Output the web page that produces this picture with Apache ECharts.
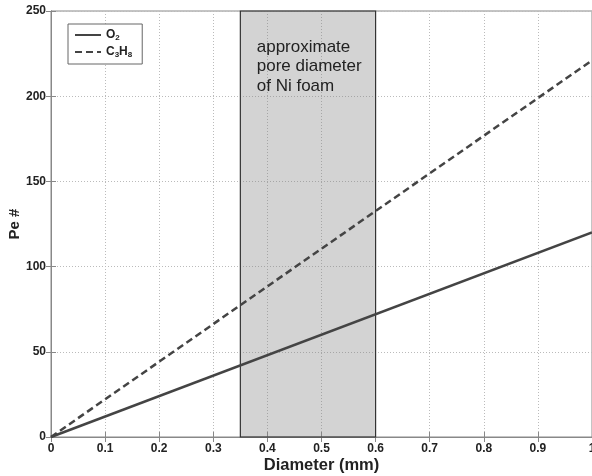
<!DOCTYPE html>
<html>
<head>
<meta charset="utf-8">
<script src="https://cdn.jsdelivr.net/npm/echarts@6/dist/echarts.min.js"></script>
<style>
  html, body { margin: 0; padding: 0; background: #fff; }
  #chart { width: 592px; height: 476px; }
</style>
</head>
<body>
<div id="chart"></div>
<script>
// Peclet number versus channel diameter
const diameters = [0, 1];
const peO2 = [0, 120];
const peC3H8 = [0, 221];
const poreRange = [0.35, 0.6];
const xTicks = ['0', '0.1', '0.2', '0.3', '0.4', '0.5', '0.6', '0.7', '0.8', '0.9', '1'];
const yTicks = ['0', '50', '100', '150', '200', '250'];

const FONT = '"Liberation Sans", Arial, sans-serif';
const axisColor = '#888';

function pairs(xs, ys) { return xs.map((x, i) => [x, ys[i]]); }

const chart = echarts.init(document.getElementById('chart'));
chart.setOption({
  animation: false,
  backgroundColor: '#fff',
  grid: {
    left: 51, right: 0, top: 11, bottom: 39,
    show: true, borderColor: axisColor, borderWidth: 1,
    containLabel: false, outerBoundsMode: 'none'
  },
  legend: {
    left: 68, top: 24,
    orient: 'vertical',
    itemWidth: 26, itemHeight: 10, itemGap: 4,
    padding: [5, 10, 5, 6],
    borderColor: '#666', borderWidth: 1,
    backgroundColor: '#fff',
    itemStyle: { opacity: 0 },
    data: ['O2', 'C3H8'],
    formatter: function (name) {
      return name === 'O2' ? '{m|O}{s|2}' : '{m|C}{s|3}{m|H}{s|8}';
    },
    textStyle: {
      rich: {
        m: { fontFamily: FONT, fontWeight: 'bold', fontSize: 12, color: '#222' },
        s: { fontFamily: FONT, fontWeight: 'bold', fontSize: 8, color: '#222', verticalAlign: 'bottom', padding: [6, 0, 0, 0] }
      }
    }
  },
  xAxis: [{
    type: 'value', min: 0, max: 1, interval: 0.1,
    name: 'Diameter (mm)', nameLocation: 'middle', nameGap: 20, nameMoveOverlap: false,
    nameTextStyle: { fontFamily: FONT, fontWeight: 'bold', fontSize: 16.5, color: '#222' },
    axisLine: { show: true, lineStyle: { color: axisColor } },
    axisTick: { show: true, inside: true, length: 5, lineStyle: { color: axisColor } },
    axisLabel: {
      fontFamily: FONT, fontWeight: 'bold', fontSize: 12, color: '#222', margin: 6,
      formatter: (v) => xTicks[Math.round(v * 10)]
    },
    splitLine: { show: true, lineStyle: { color: '#bbb', type: [1, 2], width: 1 } }
  }, {
    type: 'value', min: 0, max: 1, interval: 0.1, position: 'top',
    axisLine: { show: true, lineStyle: { color: axisColor } },
    axisTick: { show: true, inside: true, length: 5, lineStyle: { color: axisColor } },
    axisLabel: { show: false }, splitLine: { show: false }
  }],
  yAxis: [{
    type: 'value', min: 0, max: 250, interval: 50,
    name: 'Pe #', nameLocation: 'middle', nameGap: 29, nameRotate: 90, nameMoveOverlap: false,
    nameTextStyle: { fontFamily: FONT, fontWeight: 'bold', fontSize: 15, color: '#222' },
    axisLine: { show: true, lineStyle: { color: axisColor } },
    axisTick: { show: true, inside: true, length: 5, lineStyle: { color: axisColor } },
    axisLabel: {
      fontFamily: FONT, fontWeight: 'bold', fontSize: 12, color: '#222', margin: 5,
      formatter: (v) => yTicks[Math.round(v / 50)]
    },
    splitLine: { show: true, lineStyle: { color: '#bbb', type: [1, 2], width: 1 } }
  }, {
    type: 'value', min: 0, max: 250, interval: 50, position: 'right',
    axisLine: { show: true, lineStyle: { color: axisColor } },
    axisTick: { show: true, inside: true, length: 5, lineStyle: { color: axisColor } },
    axisLabel: { show: false }, splitLine: { show: false }
  }],
  series: [{
    name: 'O2', type: 'line', showSymbol: false, symbol: 'none',
    data: pairs(diameters, peO2),
    lineStyle: { color: '#444', width: 2.5, type: 'solid' },
    itemStyle: { color: '#444' },
    z: 5,
    markArea: {
      silent: true,
      itemStyle: { color: 'rgba(130,130,130,0.35)', borderColor: '#333', borderWidth: 1.2 },
      label: {
        show: true, position: 'insideTopLeft', offset: [12, 22],
        formatter: 'approximate\npore diameter\nof Ni foam',
        fontFamily: FONT, fontSize: 17, lineHeight: 19.5, color: '#222'
      },
      data: [[{ xAxis: poreRange[0], yAxis: 0 }, { xAxis: poreRange[1], yAxis: 250 }]]
    }
  }, {
    name: 'C3H8', type: 'line', showSymbol: false, symbol: 'none',
    data: pairs(diameters, peC3H8),
    lineStyle: { color: '#444', width: 2.5, type: [7, 4] },
    itemStyle: { color: '#444' },
    z: 5
  }]
});
</script>
</body>
</html>
